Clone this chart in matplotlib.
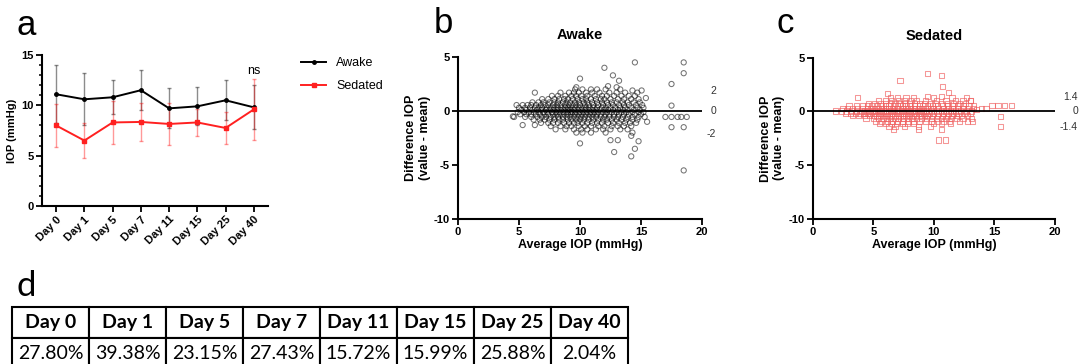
import matplotlib
matplotlib.use("Agg")
import matplotlib.pyplot as plt
from matplotlib.ticker import MultipleLocator

plt.rcParams['font.family'] = ['Liberation Sans', 'DejaVu Sans']
plt.rcParams['axes.unicode_minus'] = False

# panel a: mean IOP +/- SD per day
days = ['Day 0', 'Day 1', 'Day 5', 'Day 7', 'Day 11', 'Day 15', 'Day 25', 'Day 40']
awake_mean = [11.1, 10.6, 10.8, 11.5, 9.7, 9.9, 10.5, 9.8]
awake_sd = [2.9, 2.6, 1.7, 2.0, 2.0, 1.9, 2.0, 2.2]
sedated_mean = [8.0, 6.5, 8.3, 8.35, 8.15, 8.3, 7.75, 9.6]
sedated_sd = [2.1, 1.7, 2.1, 1.85, 2.05, 1.3, 1.6, 3.0]

# panel b: awake Bland-Altman style cloud, rows of points (y level -> x values)
awake_rows = {
    2.0: [9.6, 10.2, 10.9, 11.4, 12.1, 13.3],
    1.7: [8.4, 9.1, 9.5, 9.9, 10.5, 11.0, 11.6, 12.4, 13.0, 13.7],
    1.4: [7.7, 8.2, 8.8, 9.3, 9.7, 10.1, 10.6, 11.2, 11.8, 12.2, 12.8, 13.4, 14.0, 14.5],
    1.1: [6.9, 7.4, 7.9, 8.3, 8.7, 9.0, 9.4, 9.8, 10.2, 10.5, 10.9, 11.3, 11.7, 12.0, 12.5,
          13.1, 13.6, 14.2, 14.8],
    0.8: [6.1, 6.6, 7.0, 7.5, 7.9, 8.2, 8.6, 8.9, 9.2, 9.6, 9.9, 10.3, 10.6, 11.0, 11.4, 11.8,
          12.2, 12.6, 13.0, 13.5, 13.9, 14.4, 14.9],
    0.55: [4.8, 5.3, 5.7, 6.0, 6.4, 6.8, 7.1, 7.4, 7.8, 8.1, 8.4, 8.8, 9.1, 9.4, 9.7, 10.0, 10.4,
           10.7, 11.1, 11.5, 11.9, 12.3, 12.7, 13.2, 13.6, 14.0, 14.6, 15.1],
    0.3: [5.0, 5.5, 5.9, 6.3, 6.6, 6.9, 7.3, 7.6, 7.9, 8.2, 8.5, 8.8, 9.0, 9.3, 9.6, 9.9, 10.2,
          10.5, 10.8, 11.1, 11.4, 11.8, 12.1, 12.5, 12.9, 13.3, 13.7, 14.2, 14.7, 15.2],
    0.1: [5.2, 5.6, 6.1, 6.5, 6.8, 7.2, 7.5, 7.8, 8.1, 8.4, 8.7, 9.0, 9.2, 9.5, 9.8, 10.1, 10.4,
          10.7, 11.0, 11.3, 11.6, 12.0, 12.3, 12.7, 13.1, 13.5, 13.9, 14.4, 14.9],
    -0.1: [4.9, 5.4, 5.8, 6.2, 6.6, 7.0, 7.3, 7.7, 8.0, 8.3, 8.6, 8.9, 9.2, 9.4, 9.7, 10.0, 10.3,
           10.6, 10.9, 11.2, 11.5, 11.9, 12.2, 12.6, 13.0, 13.4, 13.8, 14.3, 14.8, 15.2],
    -0.3: [5.1, 5.6, 6.0, 6.4, 6.7, 7.1, 7.4, 7.8, 8.1, 8.4, 8.7, 9.0, 9.3, 9.6, 9.9, 10.2, 10.5,
           10.8, 11.1, 11.4, 11.7, 12.1, 12.4, 12.8, 13.2, 13.6, 14.0, 14.5, 15.0],
    -0.55: [4.6, 5.5, 6.0, 6.5, 6.9, 7.2, 7.6, 7.9, 8.2, 8.6, 8.9, 9.2, 9.5, 9.8, 10.1, 10.4,
            10.7, 11.0, 11.3, 11.7, 12.0, 12.4, 12.8, 13.1, 13.5, 13.9, 14.3, 14.8, 15.3],
    -0.8: [6.2, 6.7, 7.1, 7.5, 7.9, 8.3, 8.6, 9.0, 9.3, 9.7, 10.0, 10.3, 10.7, 11.1, 11.5, 11.9,
           12.2, 12.6, 13.0, 13.4, 13.8, 14.3, 14.7],
    -1.1: [6.8, 7.4, 7.8, 8.2, 8.7, 9.1, 9.5, 9.8, 10.2, 10.6, 11.0, 11.4, 11.8, 12.3, 12.7,
           13.2, 13.7, 14.1, 14.6],
    -1.4: [7.6, 8.4, 8.9, 9.3, 9.9, 10.4, 10.9, 11.5, 12.0, 12.6, 13.1, 13.6, 14.2],
    -1.7: [8.0, 8.8, 9.5, 10.1, 10.6, 11.3, 11.9, 12.5, 13.3, 13.9],
    -2.0: [9.7, 10.2, 10.9, 12.1, 14.3],
}
awake_out_x = [14.5, 12.0, 12.7, 13.2, 10.0, 9.7, 12.3, 13.0, 14.3, 15.05, 14.7, 15.4, 6.3,
               4.5, 5.3, 6.3, 10.0, 12.5, 13.1, 12.8, 14.2, 14.5, 14.2, 14.8, 15.5,
               17.5, 18.5, 18.5, 17.5, 17.0, 17.5, 18.0, 18.3, 18.75, 17.5, 18.5, 18.5]
awake_out_y = [4.5, 4.0, 3.3, 2.8, 3.0, 2.2, 2.3, 2.2, 1.9, 1.9, 1.7, 1.2, 1.7,
               -0.5, -1.3, -1.3, -3.0, -2.7, -2.7, -3.8, -4.2, -3.5, -2.3, -2.8, -1.0,
               2.5, 4.5, 3.5, 0.5, -0.55, -0.55, -0.55, -0.55, -0.55, -1.5, -1.5, -5.5]

# panel c: sedated
sedated_rows = {
    1.3: [6.4, 7.0, 7.7, 8.3, 10.0, 11.5, 12.7],
    1.0: [5.4, 6.0, 6.5, 7.1, 7.6, 8.1, 8.6, 9.3, 10.2, 11.0, 11.8, 12.4, 13.0],
    0.75: [4.6, 5.1, 5.6, 6.0, 6.4, 6.8, 7.2, 7.6, 8.0, 8.4, 8.8, 9.2, 9.7, 10.1, 10.6, 11.1,
           11.6, 12.1, 12.6],
    0.5: [3.0, 3.6, 4.1, 4.5, 4.9, 5.3, 5.7, 6.0, 6.3, 6.7, 7.0, 7.4, 7.7, 8.1, 8.4, 8.8, 9.1,
          9.5, 9.9, 10.3, 10.7, 11.1, 11.5, 12.0, 12.4, 12.9, 13.3],
    0.25: [2.5, 2.9, 3.3, 3.7, 4.1, 4.5, 4.8, 5.1, 5.4, 5.7, 6.0, 6.3, 6.6, 6.9, 7.2, 7.5, 7.8,
           8.1, 8.4, 8.7, 9.0, 9.3, 9.7, 10.0, 10.4, 10.8, 11.2, 11.6, 12.0, 12.4, 12.8, 13.3],
    0.05: [1.9, 2.4, 2.8, 3.2, 3.6, 4.0, 4.3, 4.6, 4.9, 5.2, 5.5, 5.8, 6.1, 6.4, 6.7, 7.0, 7.3,
           7.6, 7.9, 8.2, 8.5, 8.8, 9.1, 9.4, 9.8, 10.2, 10.6, 11.0, 11.4, 11.8, 12.2, 12.7, 13.1],
    -0.15: [2.7, 3.1, 3.5, 3.9, 4.2, 4.5, 4.8, 5.1, 5.4, 5.7, 6.0, 6.3, 6.6, 6.9, 7.2, 7.5, 7.8,
            8.1, 8.4, 8.7, 9.0, 9.3, 9.6, 10.0, 10.4, 10.8, 11.2, 11.6, 12.0, 12.5, 13.0],
    -0.4: [3.3, 3.8, 4.3, 4.7, 5.0, 5.3, 5.6, 5.9, 6.2, 6.5, 6.8, 7.1, 7.4, 7.7, 8.0, 8.3, 8.6,
           8.9, 9.2, 9.5, 9.9, 10.3, 10.7, 11.1, 11.5, 11.9, 12.3, 12.8],
    -0.65: [4.4, 5.0, 5.4, 5.8, 6.1, 6.4, 6.8, 7.1, 7.5, 7.8, 8.2, 8.6, 9.0, 9.4, 9.8, 10.2,
            10.6, 11.0, 11.4, 11.9, 12.4, 13.1],
    -0.9: [5.2, 5.7, 6.2, 6.6, 7.0, 7.4, 7.9, 8.3, 8.8, 9.3, 9.8, 10.3, 10.8, 11.3, 12.1, 12.8, 13.2],
    -1.15: [5.5, 6.0, 6.5, 6.9, 7.4, 7.8, 8.3, 10.0, 10.6, 11.4],
    -1.4: [6.3, 6.8, 7.6, 8.7, 9.7],
    -1.65: [6.7, 8.7, 10.6],
}
sedated_out_x = [9.5, 10.6, 7.2, 10.7, 11.2, 10.65, 9.5, 3.7, 6.2, 10.4, 10.95, 15.5, 15.5,
                 14.8, 15.3, 15.85, 16.4, 13.9, 14.3, 13.0, 13.5]
sedated_out_y = [3.55, 3.35, 2.85, 2.3, 1.8, 1.4, 1.4, 1.3, 1.7, -2.65, -2.65, -0.46, -1.4,
                 0.53, 0.53, 0.53, 0.53, 0.3, 0.3, 1.0, 0.2]

awake_loa = ['2', '0', '-2']
awake_loa_y = [1.85, 0.0, -2.1]
sedated_loa = ['1.4', '0', '-1.4']
sedated_loa_y = [1.3, 0.0, -1.4]

# panel d: table
table_header = days
table_values = ['27.80%', '39.38%', '23.15%', '27.43%', '15.72%', '15.99%', '25.88%', '2.04%']


def rows_to_xy(rows, out_x, out_y):
    xs, ys = [], []
    for y, xlist in rows.items():
        xs += xlist
        ys += [y] * len(xlist)
    return xs + out_x, ys + out_y


def style_axes(ax):
    for s in ['top', 'right']:
        ax.spines[s].set_visible(False)
    for s in ['left', 'bottom']:
        ax.spines[s].set_linewidth(1.5)
    ax.tick_params(width=1.3, length=4, labelsize=8, pad=2)
    for lab in ax.get_xticklabels() + ax.get_yticklabels():
        lab.set_fontweight('bold')


W, H = 1085, 364
fig = plt.figure(figsize=(W / 100, H / 100), dpi=100)


def box(l, t, r, b):
    return [l / W, 1 - b / H, (r - l) / W, (b - t) / H]


# ---- a ----
ax = fig.add_axes(box(42, 55, 268, 206))
x = list(range(len(days)))
ax.errorbar(x, awake_mean, yerr=awake_sd, fmt='none', ecolor='black', elinewidth=1,
            capsize=1.5, alpha=0.45)
ax.errorbar(x, sedated_mean, yerr=sedated_sd, fmt='none', ecolor='red', elinewidth=1,
            capsize=1.5, alpha=0.4)
ax.plot(x, awake_mean, color='black', lw=1.4, marker='o', ms=2.5, label='Awake')
ax.plot(x, sedated_mean, color='#ff2020', lw=1.4, marker='s', ms=2.5, label='Sedated')
ax.text(7, 13.4, 'ns', ha='center', va='center', fontsize=9)
ax.set_xlim(-0.5, 7.5)
ax.set_ylim(0, 15)
ax.set_yticks([0, 5, 10, 15])
ax.yaxis.set_minor_locator(MultipleLocator(1))
ax.tick_params(axis='y', which='minor', length=2.5, width=1.1)
ax.set_xticks(x)
ax.set_xticklabels(days, rotation=45, ha='right', rotation_mode='anchor')
ax.set_ylabel('IOP (mmHg)', fontsize=8, fontweight='bold', labelpad=3)
style_axes(ax)
fig.legend(loc='upper left', bbox_to_anchor=(296 / W, 1 - 52 / H), frameon=False,
           fontsize=9, handlelength=2.0, labelspacing=0.9, borderaxespad=0)

# ---- b and c ----
panels = [
    (box(458, 57, 702, 219), 'Awake', rows_to_xy(awake_rows, awake_out_x, awake_out_y),
     dict(marker='o', facecolors='none', edgecolors='black', alpha=0.55),
     awake_loa, awake_loa_y, 716),
    (box(812.7, 57.7, 1055, 219), 'Sedated',
     rows_to_xy(sedated_rows, sedated_out_x, sedated_out_y),
     dict(marker='s', facecolors='none', edgecolors='#f06060', alpha=0.65),
     sedated_loa, sedated_loa_y, 1078),
]
for pos, title, (px, py), kw, loa, loa_y, loa_x in panels:
    ax = fig.add_axes(pos)
    ax.scatter(px, py, s=14, linewidths=0.75, **kw, zorder=2)
    ax.axhline(0, color='black', lw=1.3, zorder=3)
    ax.set_xlim(0, 20)
    ax.set_ylim(-10, 5)
    ax.set_xticks([0, 5, 10, 15, 20])
    ax.set_yticks([-10, -5, 0, 5])
    ax.set_xlabel('Average IOP (mmHg)', fontsize=9, fontweight='bold', labelpad=1)
    ax.set_ylabel('Difference IOP\n(value - mean)', fontsize=9, fontweight='bold', labelpad=2)
    ax.set_title(title, fontsize=10.5, fontweight='bold', pad=13)
    style_axes(ax)
    for lab, yv in zip(loa, loa_y):
        ax.annotate(lab, xy=(1, yv), xycoords=('axes fraction', 'data'),
                    xytext=(loa_x - (pos[0] + pos[2]) * W, 0), textcoords='offset pixels',
                    ha='right', va='center', fontsize=7.5, color='#333333')

# panel letters
fig.text(17 / W, 1 - 35 / H, 'a', fontsize=25, va='baseline')
fig.text(434 / W, 1 - 33 / H, 'b', fontsize=25, va='baseline')
fig.text(776 / W, 1 - 33 / H, 'c', fontsize=25, va='baseline')
fig.text(17 / W, 1 - 296 / H, 'd', fontsize=25, va='baseline', family='Lato')

# ---- d ----
tax = fig.add_axes(box(12, 307, 628, 369))
tax.axis('off')
tbl = tax.table(cellText=[table_header, table_values], cellLoc='center', bbox=[0, 0, 1, 1])
tbl.auto_set_font_size(False)
for (r, c), cell in tbl.get_celld().items():
    cell.set_linewidth(1.5)
    cell.get_text().set_fontsize(14)
    cell.get_text().set_family('Lato')
    if r == 0:
        cell.get_text().set_fontweight('bold')

fig.savefig('out.png', dpi=100)
